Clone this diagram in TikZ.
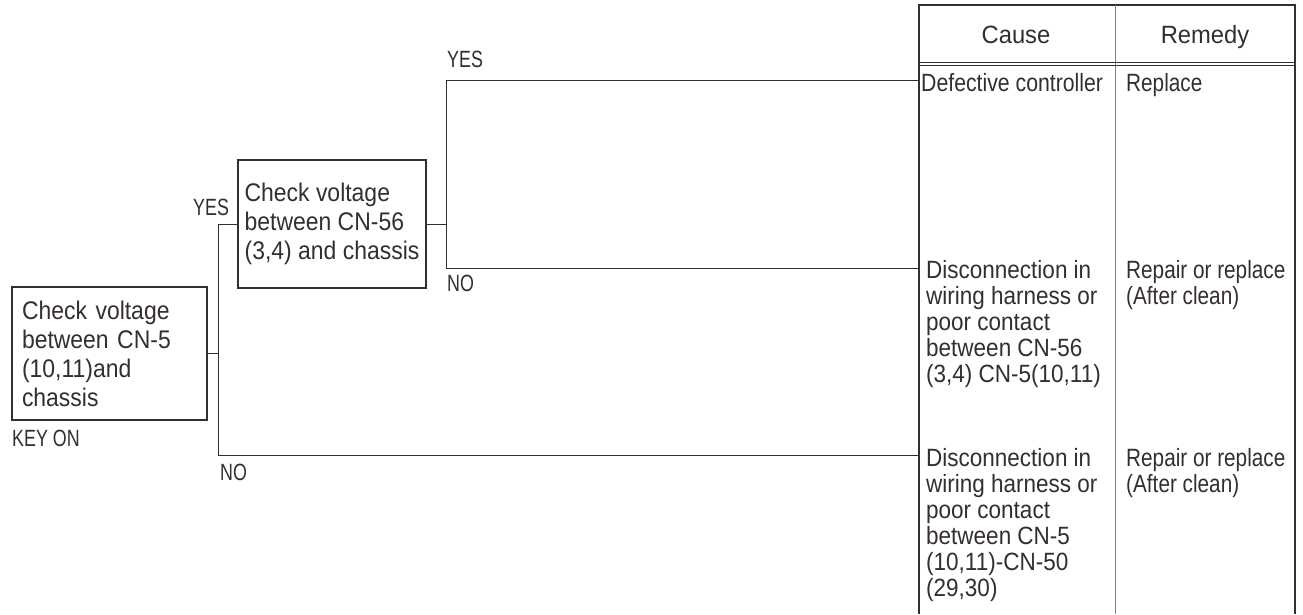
\documentclass[tikz,border=0pt]{standalone}
\usepackage{fontspec}
\setmainfont{Liberation Sans}[FakeStretch=0.9]
\newfontfamily\lblfont{Liberation Sans}[FakeStretch=0.76]
\newfontfamily\remfont{Liberation Sans}[FakeStretch=0.83]
\newfontfamily\defcfont{Liberation Sans}[FakeStretch=0.85]
\newfontfamily\headfont{Liberation Sans}[FakeStretch=0.95]
\usepackage{xcolor}
\usetikzlibrary{calc}
\definecolor{ink}{HTML}{352E2E}

\begin{document}
\begin{tikzpicture}[x=1pt,y=-1pt,
  chkbox/.style={draw=ink,line width=1.4pt,align=left,text=ink,inner sep=0pt,font=\fontsize{25.5}{29}\selectfont},
  yesno/.style={anchor=base west,inner sep=0pt,text=ink,font=\lblfont\fontsize{23.5}{24}\selectfont},
  cell/.style={anchor=base west,inner sep=0pt,align=left,text=ink,font=\fontsize{25}{26}\selectfont},
  remcell/.style={cell,font=\remfont\fontsize{25}{26}\selectfont},
  wire/.style={draw=ink,line width=1pt},
  tabline/.style={draw=ink,line width=1.5pt}]
\useasboundingbox (0,0) rectangle (1303,614);
% check boxes
\node[chkbox,minimum width=195pt,minimum height=133pt,text width=175pt] (chkA) at (109.5,353.5) {Check voltage\\between CN-5\\(10,11)and\\chassis};
\node[chkbox,minimum width=188pt,minimum height=128pt] (chkB) at (332,224) {Check voltage\\between CN-56\\(3,4) and chassis};
% table
\draw[tabline] (919,614) -- (919,5) -- (1295,5) -- (1295,614);
\draw[tabline,draw=gray,line width=1pt] (1115,5) -- (1115,614);
\draw[wire] (919,62) -- (1295,62) (919,65.5) -- (1295,65.5);
\node[cell,anchor=base,font=\headfont\fontsize{25}{26}\selectfont] (cause) at (1016,43) {Cause};
\node[cell,anchor=base,font=\headfont\fontsize{25}{26}\selectfont] (remedy) at (1205,43) {Remedy};
\coordinate (inA) at (919,80);
\coordinate (inB) at (919,268);
\coordinate (inC) at (919,455);
% connectors
\draw[wire] (chkA.east) -- ++(11,0) coordinate (jA);
\draw[wire] (jA) |- (chkB.west);
\draw[wire] (jA) |- (inC);
\draw[wire] (chkB.east) -- ++(20,0) coordinate (jB);
\draw[wire] (jB) |- (inA);
\draw[wire] (jB) |- (inB);
% labels
\node[yesno] (yesA) at (193,215) {YES};
\node[yesno] (noA) at (220,480) {NO};
\node[yesno] (yesB) at (447,67) {YES};
\node[yesno] (noB) at (447,291) {NO};
\node[yesno] (keyon) at (12,446) {KEY ON};
% causes and remedies (base = last line)
\node[cell,font=\defcfont\fontsize{25}{26}\selectfont] (causeA) at (921,91) {Defective controller};
\node[remcell] (remA) at (1126,91) {Replace};
\node[cell] (causeB) at (926,382) {Disconnection in\\wiring harness or\\poor contact\\between CN-56\\(3,4) CN-5(10,11)};
\node[remcell] (remB) at (1126,304) {Repair or replace\\(After clean)};
\node[cell] (causeC) at (926,596) {Disconnection in\\wiring harness or\\poor contact\\between CN-5\\(10,11)-CN-50\\(29,30)};
\node[remcell] (remC) at (1126,492) {Repair or replace\\(After clean)};
\end{tikzpicture}
\end{document}
